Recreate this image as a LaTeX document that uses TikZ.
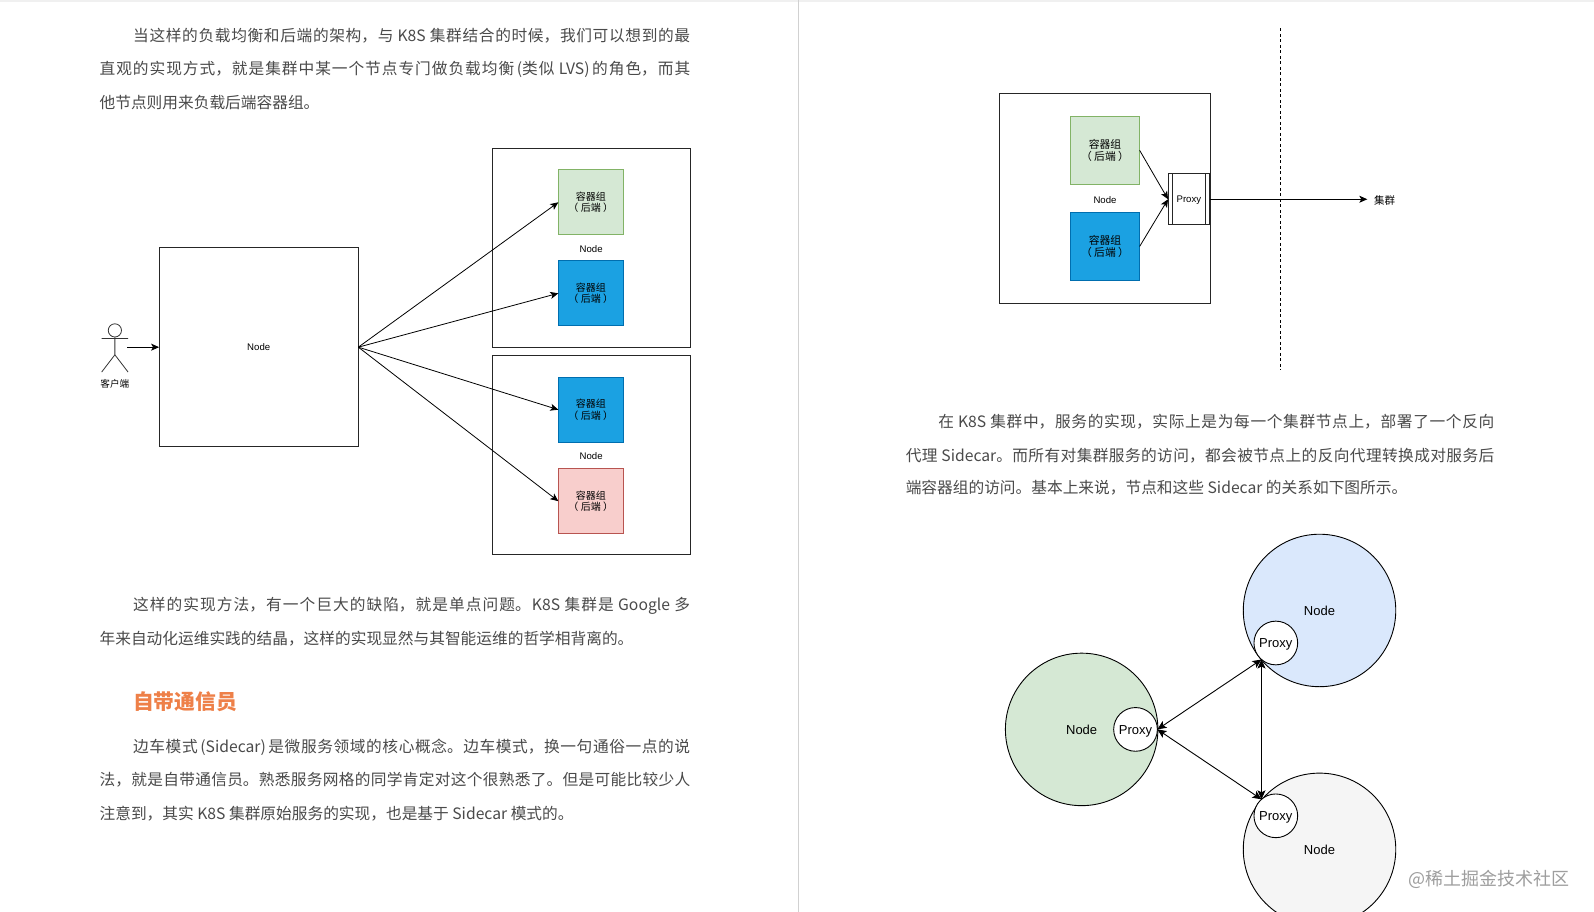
\documentclass[tikz,border=0pt]{standalone}
\usepackage{fontspec}
\usetikzlibrary{arrows.meta}
\setmainfont{Noto Sans CJK SC}
\newfontfamily\latinsf{Liberation Sans}
\XeTeXlinebreaklocale "zh"
\XeTeXlinebreakskip=0pt plus 2pt
\definecolor{bodytext}{HTML}{4A4A4A}
\definecolor{headorange}{HTML}{EE8048}
\newcommand{\just}[2]{\parbox[b]{#1}{\parindent=0pt\parfillskip=0pt\leavevmode #2}}
\newcommand{\backend}{容器组\\（\hspace{2.4pt}后端\hspace{2.4pt}）}
\tikzset{
  body/.style={anchor=base west,inner sep=0pt,outer sep=0pt,text=bodytext,font=\fontsize{15.7}{18}\selectfont},
  box/.style={draw=black!85,line width=0.9pt,fill=white,inner sep=0pt,outer sep=0pt},
  sized/.style 2 args={minimum width=#1*1.01657pt,minimum height=#2*1.01657pt},
  c1/.style={draw=#1,line width=0.9pt,inner sep=0pt,outer sep=0pt,align=center,font=\fontsize{10}{11.2}\selectfont},
  greenbox/.style={c1=green82,fill=greenfill},
  bluebox/.style={c1=blue6e,fill=bluefill},
  redbox/.style={c1=redb8,fill=redfill},
  largerbk/.style={font=\fontsize{10.8}{11.8}\selectfont},
  lab/.style={inner sep=0pt,outer sep=0pt,text height=6.9pt,text depth=0pt,font=\latinsf\fontsize{9.6}{11}\selectfont},
  arr/.style={draw=black,line width=0.8pt,-{Stealth[length=8pt,width=7pt,inset=2pt]}},
  dbl/.style={draw=black,line width=0.9pt,{Stealth[length=9pt,width=8pt,inset=2pt]}-{Stealth[length=9pt,width=8pt,inset=2pt]}},
  bigc/.style={circle,draw=black,line width=0.9pt,minimum size=150*1.01657pt,inner sep=0pt,outer sep=0pt,text height=9.4pt,text depth=0pt,font=\latinsf\fontsize{13}{15}\selectfont},
  proxyc/.style={circle,draw=black,line width=0.9pt,fill=white,minimum size=43*1.01657pt,inner sep=0pt,outer sep=0pt,text height=9.4pt,text depth=0pt,font=\latinsf\fontsize{13}{15}\selectfont},
}
\definecolor{green82}{HTML}{82B366}\definecolor{greenfill}{HTML}{D5E8D4}
\definecolor{blue6e}{HTML}{006EAF}\definecolor{bluefill}{HTML}{1BA1E2}
\definecolor{redb8}{HTML}{B85450}\definecolor{redfill}{HTML}{F8CECC}
\definecolor{lightblue}{HTML}{DAE8FC}\definecolor{lightgray}{HTML}{F5F5F5}
\begin{document}
\begin{tikzpicture}[x=1.01657pt,y=-1.01657pt]
\clip (0,0) rectangle (1568,897);
\fill[white] (0,0) rectangle (1568,897);
\fill[black!6] (0,0) rectangle (1568,2);
\draw[black!18,line width=1pt] (785,0) -- (785,897);

% left text
\node[body] (t1) at (131,41) {\just{557pt}{当这样的负载均衡和后端的架构，与 K8S 集群结合的时候，我们可以想到的最}};
\node[body] (t2) at (98,73.5) {\just{590.6pt}{直观的实现方式，就是集群中某一个节点专门做负载均衡\,(类似 LVS)\,的角色，而其}};
\node[body] (t3) at (98,107) {他节点则用来负载后端容器组。};
\node[body] (t4) at (131,601) {\just{557pt}{这样的实现方法，有一个巨大的缺陷，就是单点问题。K8S 集群是 Google 多}};
\node[body] (t5) at (98,634) {年来自动化运维实践的结晶，这样的实现显然与其智能运维的哲学相背离的。};
\node[body,text=headorange,font=\bfseries\fontsize{20.8}{24}\selectfont] (h1) at (131,698) {自带通信员};
\node[body] (t6) at (131,740.5) {\just{557pt}{边车模式\,(Sidecar)\,是微服务领域的核心概念。边车模式，换一句通俗一点的说}};
\node[body] (t7) at (98,773) {\just{590.6pt}{法，就是自带通信员。熟悉服务网格的同学肯定对这个很熟悉了。但是可能比较少人}};
\node[body] (t8) at (98,806.5) {注意到，其实 K8S 集群原始服务的实现，也是基于 Sidecar 模式的。};

% left diagram
\node[box,sized={196}{196},lab,draw=black!85] (big) at (254.5,341.5) {Node};
\node[box,sized={195}{196}] (n1) at (581.5,244) {};
\node[box,sized={195}{196}] (n2) at (581.5,447.3) {};
\node[lab] (n1l) at (581.5,244.5) {Node};
\node[lab] (n2l) at (581.5,448.5) {Node};
\node[greenbox,sized={64}{64}] (g1) at (581.2,199) {\backend};
\node[bluebox,sized={64}{64}] (b1) at (581.2,288.5) {\backend};
\node[bluebox,sized={64}{64}] (b2) at (581.2,403) {\backend};
\node[redbox,sized={64}{64}] (r1) at (581.2,493) {\backend};

% actor
\node[circle,draw=black!80,line width=0.8pt,minimum size=13*1.01657pt,inner sep=0pt] (head) at (113,325) {};
\coordinate (hip) at (113,349);
\coordinate (armL) at (100,333);\coordinate (armR) at (126,333);
\coordinate (legL) at (100,366);\coordinate (legR) at (126,366);
\draw[black!80,line width=0.8pt] (head.south) -- (hip) (armL) -- (armR) (legL) -- (hip) -- (legR);
\node[inner sep=0pt,font=\fontsize{9.6}{11}\selectfont] (client) at (113,378) {客户端};
\coordinate (actorR) at (125,341.5);
\draw[arr] (actorR) -- (big.west);
\draw[arr] (big.east) -- (g1.west);
\draw[arr] (big.east) -- (b1.west);
\draw[arr] (big.east) -- (b2.west);
\draw[arr] (big.east) -- (r1.west);

% right top diagram
\node[box,sized={207}{206}] (n3) at (1087,195.4) {};
\node[greenbox,largerbk,sized={68}{67}] (g2) at (1087,147.8) {\backend};
\node[bluebox,largerbk,sized={68}{67}] (b3) at (1087,242.5) {\backend};
\node[lab] (n3l) at (1087,196.5) {Node};
\node[box,sized={41}{50},lab,draw=black!85,minimum width=41*1.01657pt,minimum height=50*1.01657pt] (px) at (1169.5,196) {Proxy};
\draw[black!85,line width=0.9pt] ([xshift=4.2pt]px.north west) -- ([xshift=4.2pt]px.south west)
  ([xshift=-4.2pt]px.north east) -- ([xshift=-4.2pt]px.south east);
\draw[arr] (g2.east) -- (px.west);
\draw[arr] (b3.east) -- (px.west);
\node[inner sep=0pt,outer sep=0pt,font=\fontsize{10.5}{11}\selectfont] (cl) at (1362,197) {集群};
\coordinate (clw) at (1345,196);
\draw[arr] (px.east) -- (clw);
\coordinate (dashT) at (1259.5,28);\coordinate (dashB) at (1259.5,364);
\draw[black,line width=0.8pt,dash pattern=on 3pt off 2.5pt] (dashT) -- (dashB);

% right text
\node[body] (t9) at (923,421) {\just{556pt}{在 K8S 集群中，服务的实现，实际上是为每一个集群节点上，部署了一个反向}};
\node[body] (t10) at (891,453.5) {\just{588.6pt}{代理 Sidecar。而所有对集群服务的访问，都会被节点上的反向代理转换成对服务后}};
\node[body] (t11) at (891,485.5) {端容器组的访问。基本上来说，节点和这些 Sidecar 的关系如下图所示。};

% circles
\node[bigc,fill=greenfill] (cg) at (1064,717.5) {Node};
\node[bigc,fill=lightblue] (cb) at (1298,600.5) {Node};
\node[bigc,fill=lightgray] (cw) at (1298,835.5) {Node};
\node[proxyc] (pg) at (1117,717.5) {Proxy};
\node[proxyc] (pb) at (1255,632.5) {Proxy};
\node[proxyc] (pw) at (1255,802.5) {Proxy};
\draw[dbl] (pg.east) -- (pb.229);
\draw[dbl] (pg.east) -- (pw.131);
\draw[dbl] (pb.229) -- (pw.131);

% watermark
\node[inner sep=0pt,text=black!38,font=\fontsize{18}{20}\selectfont] (wm) at (1465,865) {@稀土掘金技术社区};
\end{tikzpicture}
\end{document}
